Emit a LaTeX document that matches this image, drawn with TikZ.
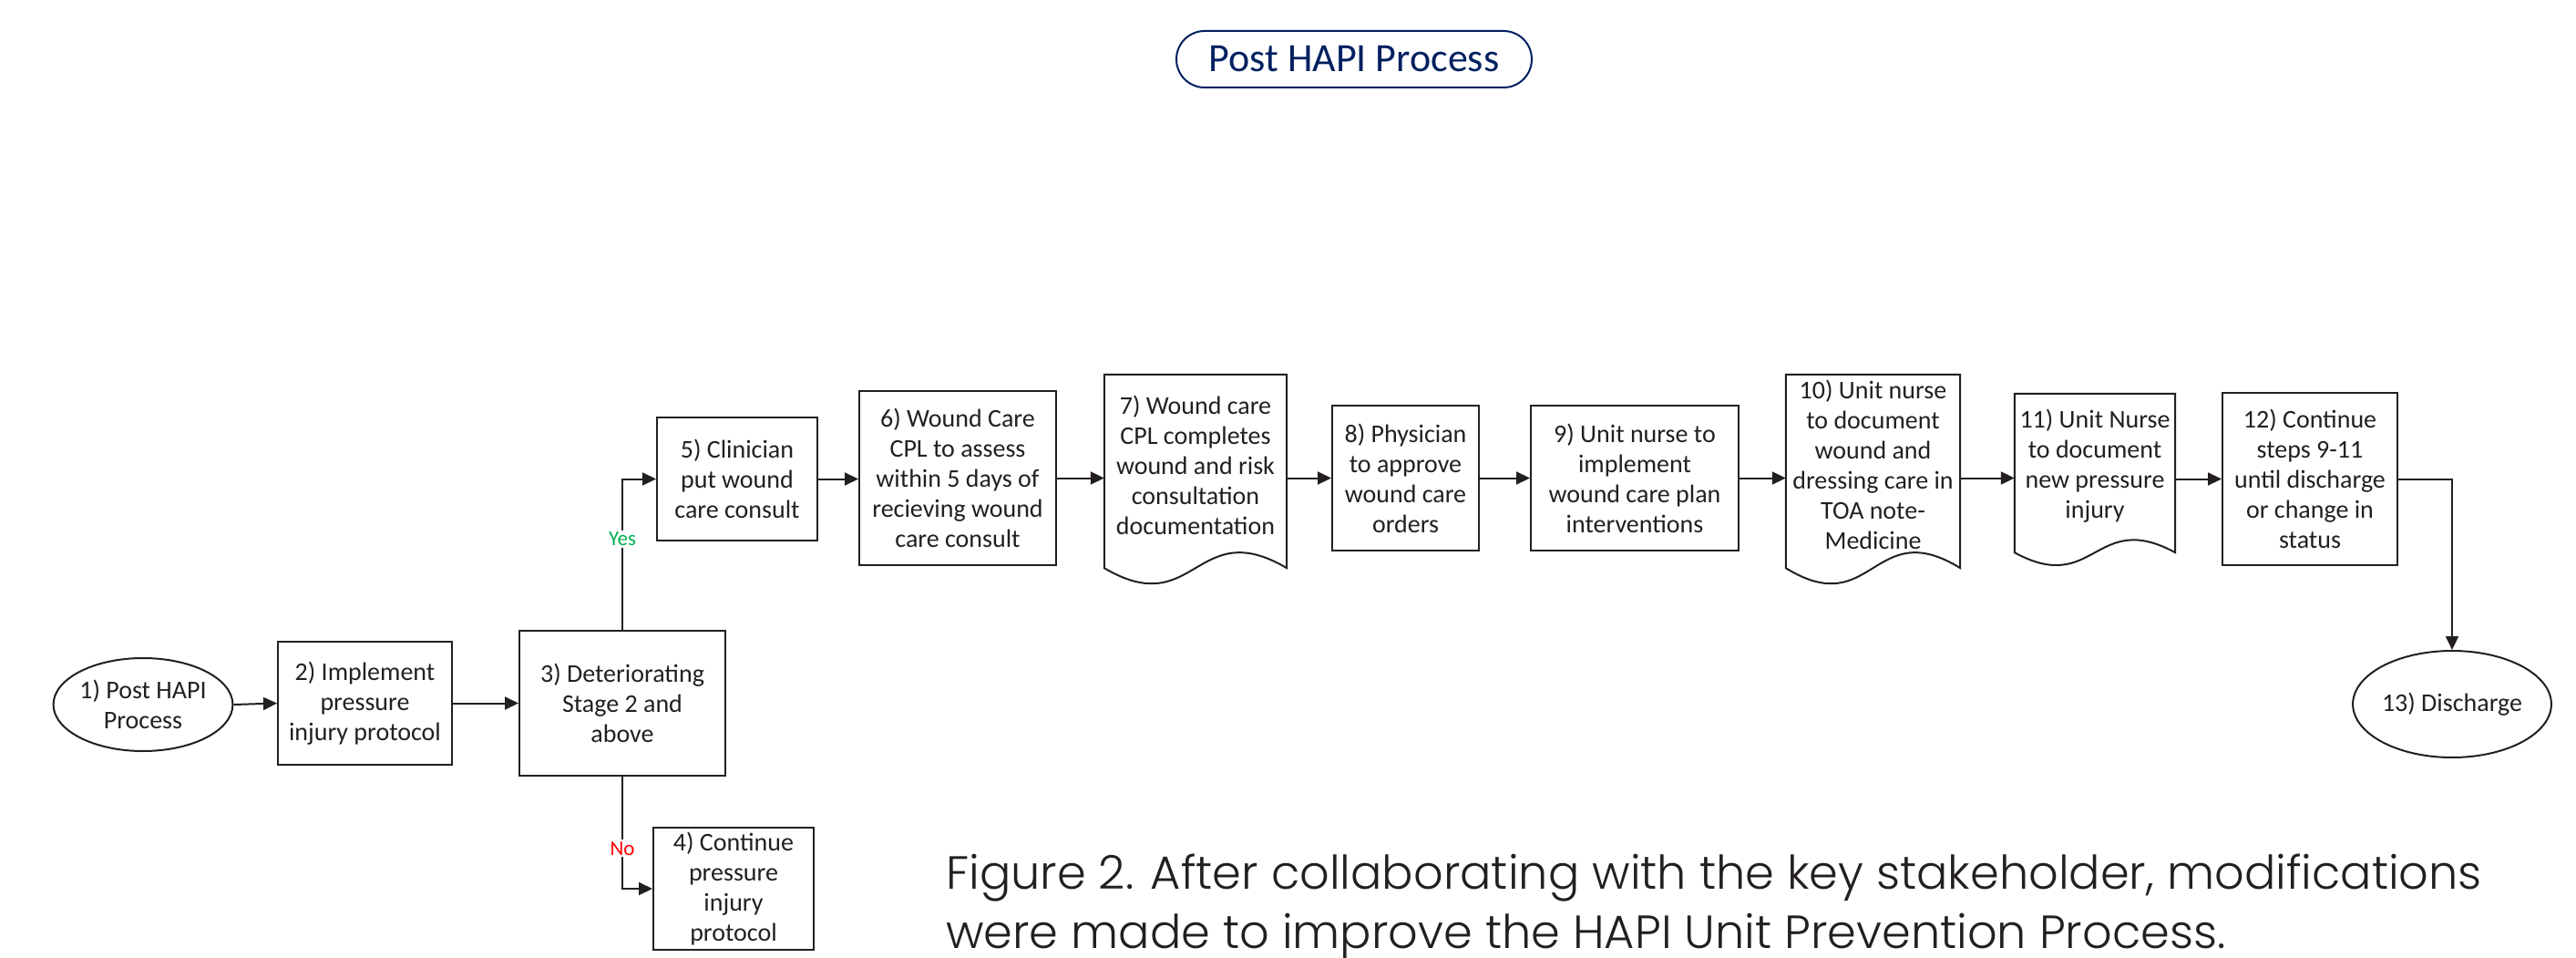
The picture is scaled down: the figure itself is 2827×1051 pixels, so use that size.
\documentclass[tikz,border=0pt]{standalone}
\usepackage{fontspec}
\setmainfont{Carlito}
\newfontfamily\capfont{Poppins}[UprightFont={* Light}]
\usetikzlibrary{arrows.meta,shapes.geometric,calc}
\definecolor{navy}{RGB}{0,32,96}
\definecolor{ink}{RGB}{35,31,32}
\definecolor{yesgreen}{RGB}{0,176,80}
\tikzset{
  every node/.style={text=ink},
  boxtxt/.style={font=\fontsize{28}{33}\selectfont, align=center, inner sep=0pt},
  procbox/.style={boxtxt, draw=ink, line width=2pt, rectangle},
  termin/.style={boxtxt, draw=ink, line width=2pt, ellipse},
  docbox/.style={boxtxt, rectangle},
  docline/.style={draw=ink, line width=2pt, line join=miter},
  arr/.style={draw=ink, line width=2pt, -{Triangle[length=15pt,width=14pt]}},
  lbl/.style={font=\fontsize{23}{26}\selectfont, fill=white, inner sep=2pt}
}
\begin{document}
\begin{tikzpicture}[x=1pt,y=-1pt]
\useasboundingbox (0,0) rectangle (2827,1051);

% title
\node[draw=navy, line width=2pt, rounded corners=31pt, minimum width=390pt, minimum height=62pt,
      text=navy, font=\fontsize{44}{50}\selectfont, inner sep=0pt] (title) at (1486,65) {Post HAPI Process};

% lower row
\node[termin, minimum width=190pt, minimum height=102pt] (n1) at (157,773) {1) Post HAPI\\Process};
\node[procbox, minimum width=191pt, minimum height=135pt] (n2) at (400.5,771.5) {2) Implement\\pressure\\injury protocol};
\node[procbox, minimum width=226pt, minimum height=159pt] (n3) at (683,771.5) {3) Deteriorating\\Stage 2 and\\above};
\node[procbox, minimum width=176pt, minimum height=134pt] (n4) at (805,975) {4) Continue\\pressure\\injury\\protocol};

% upper row
\node[procbox, minimum width=176pt, minimum height=135pt] (n5) at (809,525.5) {5) Clinician\\put wound\\care consult};
\node[procbox, minimum width=216pt, minimum height=191pt] (n6) at (1051,524.5) {6) Wound Care\\CPL to assess\\within 5 days of\\recieving wound\\care consult};
\node[docbox, minimum width=200pt, minimum height=198pt] (n7) at (1312,510) {7) Wound care\\CPL completes\\wound and risk\\consultation\\documentation};
\node[procbox, minimum width=161pt, minimum height=159pt] (n8) at (1542.5,524.5) {8) Physician\\to approve\\wound care\\orders};
\node[procbox, minimum width=228pt, minimum height=159pt] (n9) at (1794,524.5) {9) Unit nurse to\\implement\\wound care plan\\interventions};
\node[docbox, minimum width=191pt, minimum height=198pt] (n10) at (2055.5,510) {10) Unit nurse\\to document\\wound and\\dressing care in\\TOA note-\\Medicine};
\node[docbox, minimum width=176pt, minimum height=158pt] (n11) at (2299,511) {11) Unit Nurse\\to document\\new pressure\\injury};
\node[procbox, minimum width=192pt, minimum height=189pt] (n12) at (2535,525.5) {12) Continue\\steps 9-11\\until discharge\\or change in\\status};
\node[termin, minimum width=212pt, minimum height=117pt] (n13) at (2691,772.5) {13) Discharge};

% document outlines
\draw[docline] ($(n7.south west)+(0,14)$) -- (n7.north west) -- (n7.north east) -- ($(n7.south east)+(0,14)$)
  .. controls ($(n7.south)+(0,14-59)$) and ($(n7.south)+(0,14+59)$) .. cycle;
\draw[docline] ($(n10.south west)+(0,14)$) -- (n10.north west) -- (n10.north east) -- ($(n10.south east)+(0,14)$)
  .. controls ($(n10.south)+(0,14-59)$) and ($(n10.south)+(0,14+59)$) .. cycle;
\draw[docline] ($(n11.south west)+(0,16)$) -- (n11.north west) -- (n11.north east) -- ($(n11.south east)+(0,16)$)
  .. controls ($(n11.south)+(0,16-48)$) and ($(n11.south)+(0,16+48)$) .. cycle;

% connectors
\draw[arr] (n1.east) -- (n2.west);
\draw[arr] (n2.east) -- (n2.east -| n3.west);
\draw[arr] (n3.north) |- node[lbl, text=yesgreen, pos=0.3] {Yes} (n5.west);
\draw[arr] (n3.south) |- node[lbl, text=red, pos=0.32] {No} (n4.west);
\draw[arr] (n5.east) -- (n5.east -| n6.west);
\draw[arr] (n6.east) -- (n6.east -| n7.west);
\draw[arr] (n7.east |- n8.west) -- (n8.west);
\draw[arr] (n8.east) -- (n9.west);
\draw[arr] (n9.east) -- (n9.east -| n10.west);
\draw[arr] (n10.east |- n9.east) -- (n10.east |- n9.east -| n11.west);
\draw[arr] (n11.east |- n12.west) -- (n12.west);
\draw[arr] (n12.east) -| (n13.north);

% caption
\node[anchor=base west, align=left, inner sep=0pt, font=\capfont\fontsize{51}{65}\selectfont] (cap) at (1038,1040)
  {Figure 2. After collaborating with the key stakeholder, modifications\\were made to improve the HAPI Unit Prevention Process.};
\end{tikzpicture}
\end{document}
